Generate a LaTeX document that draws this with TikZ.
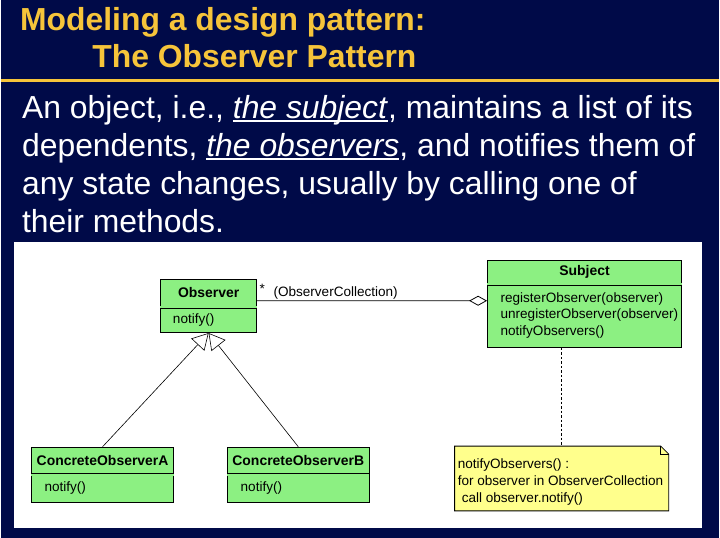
\documentclass[tikz,border=0pt]{standalone}
\usepackage{fontspec}
\setmainfont{Liberation Sans}
\newcommand{\slideuline}[1]{\setbox0\hbox{#1}\rlap{\rule[-3.5bp]{\wd0}{1.6bp}}\box0}
\usetikzlibrary{arrows.meta}
\definecolor{slidenavy}{RGB}{0,10,72}
\definecolor{slideyellow}{RGB}{246,196,58}
\definecolor{classgreen}{RGB}{140,240,130}
\definecolor{noteyellow}{RGB}{255,255,140}
\begin{document}
\begin{tikzpicture}[x=1bp,y=-1bp,
  heading/.style={anchor=base west,inner sep=0,text=slideyellow,font=\fontsize{32bp}{38bp}\selectfont\bfseries},
  bodyline/.style={anchor=base west,inner sep=0,text=white,font=\fontsize{32bp}{38bp}\selectfont},
  classbox/.style={draw,fill=classgreen,line width=0.8bp,inner sep=0},
  classname/.style={inner sep=0,font=\fontsize{14bp}{16bp}\selectfont\bfseries},
  classops/.style={anchor=west,inner sep=0,align=left,font=\fontsize{13.6bp}{16.5bp}\selectfont},
  compartment/.style={double=classgreen,double distance=2bp,line width=0.7bp},
  generalize/.style={-{Triangle[open,length=16bp,width=18bp]},line width=0.6bp},
  aggregate/.style={-{Diamond[open,length=18bp,width=10bp]},line width=0.8bp}]
\fill[slidenavy] (0,0) rectangle (720,540);
\node[heading] (title1) at (18.5,31) {Modeling a design pattern:};
\node[heading] (title2) at (91,68) {The Observer Pattern};
\draw[slideyellow,line width=3bp] (0,81) -- (720,81);
\node[bodyline] (line1) at (20.5,119) {An object, i.e., \slideuline{\textit{the subject}}, maintains a list of its};
\node[bodyline] (line2) at (20.5,157) {dependents, \slideuline{\textit{the observers}}, and notifies them of};
\node[bodyline] (line3) at (20.5,195) {any state changes, usually by calling one of};
\node[bodyline] (line4) at (20.5,233) {their methods.};
\fill[white] (13,243) rectangle (703,530);

\node[classbox,minimum width=96bp,minimum height=53bp] (observer) at (208,307.5) {};
\node[classname] (observerName) at (208,294) {Observer};
\draw[compartment] (observer.west |- 0,308.5) -- (observer.east |- 0,308.5);
\node[classops] (observerOps) at (172,321) {notify()};

\node[classbox,minimum width=195bp,minimum height=88bp] (subject) at (585.5,305) {};
\node[classname] (subjectName) at (585.5,273) {Subject};
\draw[compartment] (subject.west |- 0,285.5) -- (subject.east |- 0,285.5);
\node[classops] (subjectOps) at (501,316.5) {registerObserver(observer)\\unregisterObserver(observer)\\notifyObservers()};

\node[classbox,minimum width=143bp,minimum height=55bp] (concreteA) at (101.5,476.5) {};
\node[classname] (concreteAName) at (101.5,462.5) {ConcreteObserverA};
\draw[compartment] (concreteA.west |- 0,476.5) -- (concreteA.east |- 0,476.5);
\node[classops] (concreteAOps) at (43,490) {notify()};

\node[classbox,minimum width=142bp,minimum height=55bp] (concreteB) at (298,476.5) {};
\node[classname] (concreteBName) at (298,462.5) {ConcreteObserverB};
\draw[compartment] (concreteB.west |- 0,476.5) -- (concreteB.east |- 0,476.5);
\node[classops] (concreteBOps) at (240,490) {notify()};

\draw[aggregate] ([yshift=5.5bp]observer.east) -- ([yshift=3bp]subject.west);
\node[classops] (many) at (259,290) {*};
\node[classops] (collection) at (273,294) {(ObserverCollection)};
\draw[generalize] (concreteA.north) -- (observer.south);
\draw[generalize] (concreteB.north) -- (observer.south);

\draw[fill=noteyellow,line width=0.8bp] (455,448) -- (662,448) -- (670,456) -- (670,513) -- (455,513) -- cycle;
\draw[line width=0.8bp] (662,448) -- (662,456) -- (670,456);
\node[inner sep=0,minimum width=215bp,minimum height=65bp] (note) at (562.5,480.5) {};
\node[classops,font=\fontsize{13.6bp}{17.5bp}\selectfont] (noteText) at (458,484) {notifyObservers() :\\for observer in ObserverCollection\\\hspace*{4bp}call observer.notify()};
\draw[dash pattern=on 2.5bp off 2bp,line width=0.8bp] (note.north |- subject.south) -- (note.north);
\end{tikzpicture}
\end{document}
